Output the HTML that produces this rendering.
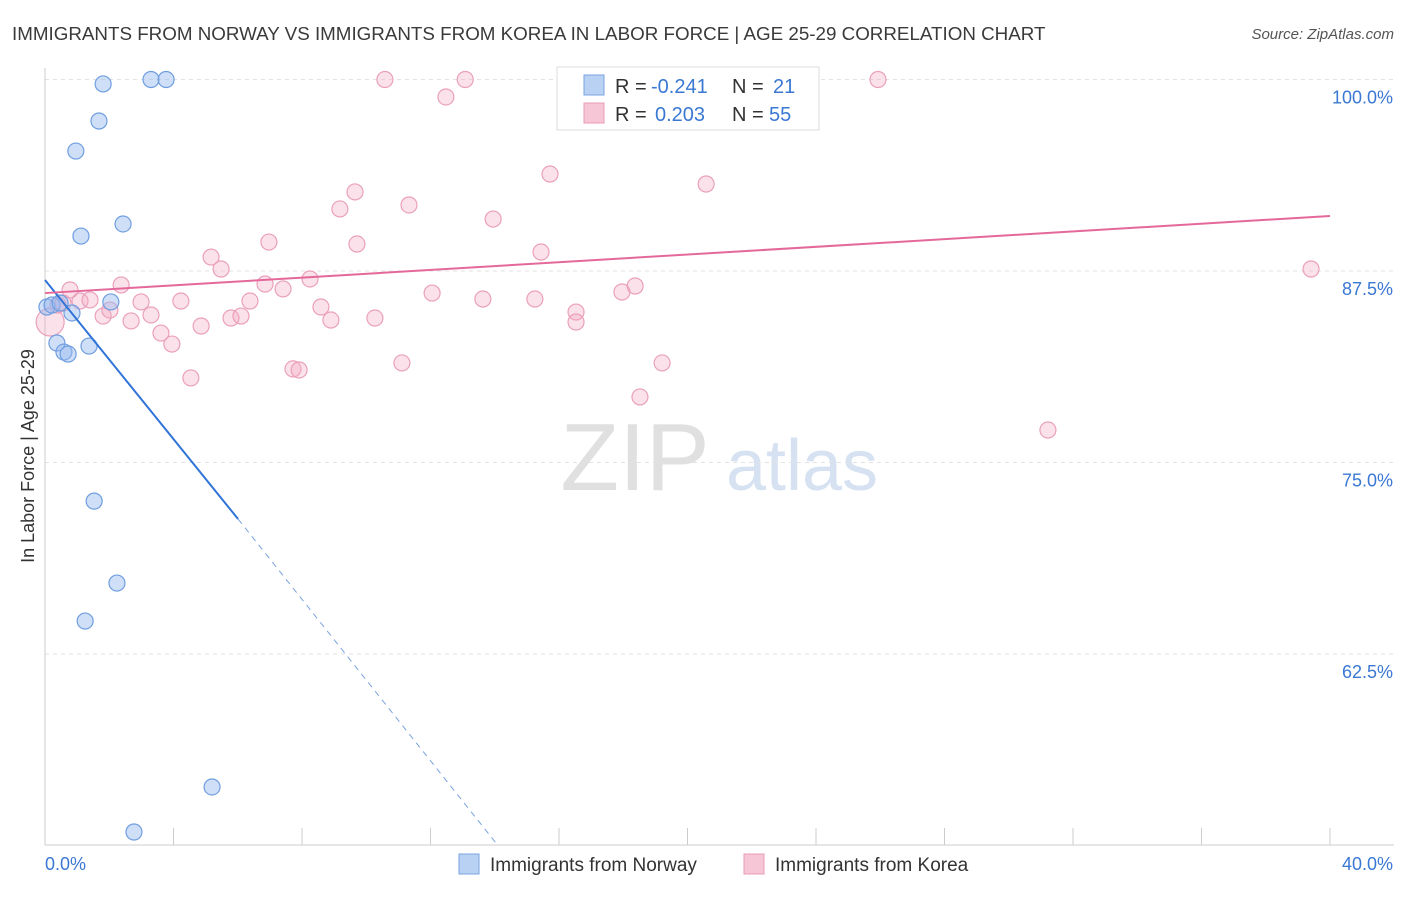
<!DOCTYPE html>
<html><head><meta charset="utf-8"><style>
body{margin:0;background:#fff;font-family:"Liberation Sans",sans-serif;}
svg text{font-family:"Liberation Sans",sans-serif;}
</style></head><body>
<svg id="chart" width="1406" height="892" xmlns="http://www.w3.org/2000/svg">
<text x="12" y="40" font-size="18.8" fill="#3a3a3a">IMMIGRANTS FROM NORWAY VS IMMIGRANTS FROM KOREA IN LABOR FORCE | AGE 25-29 CORRELATION CHART</text>
<text x="1394" y="39" font-size="15" fill="#555" text-anchor="end" font-style="italic">Source: ZipAtlas.com</text>
<text transform="translate(34,456) rotate(-90)" font-size="18" fill="#333" text-anchor="middle">In Labor Force | Age 25-29</text>
<g><text x="635" y="490" font-size="96" fill="#e0e0e0" text-anchor="middle" font-family="Liberation Serif">ZIP</text><text x="802" y="490" font-size="72" fill="#d6e2f2" text-anchor="middle">atlas</text></g>
<g id="grid"></g><g id="axes"></g><g id="marks"></g>
<g>
<rect x="557" y="67" width="262" height="63" fill="#fff" stroke="#ddd"/>
<rect x="584" y="75" width="20" height="20" fill="#b9d1f3" stroke="#7aa3e0"/>
<text x="615" y="93" font-size="20" fill="#333">R = </text><text x="651" y="93" font-size="20" fill="#3a78d4">-0.241</text>
<text x="732" y="93" font-size="20" fill="#333">N = </text><text x="773" y="93" font-size="20" fill="#3a78d4">21</text>
<rect x="584" y="103" width="20" height="20" fill="#f7c6d6" stroke="#e89ab5"/>
<text x="615" y="121" font-size="20" fill="#333">R = </text><text x="655" y="121" font-size="20" fill="#3a78d4">0.203</text>
<text x="732" y="121" font-size="20" fill="#333">N = </text><text x="769" y="121" font-size="20" fill="#3a78d4">55</text>
</g>
<g><rect x="459" y="854" width="20" height="20" fill="#b9d1f3" stroke="#7aa3e0"/><text x="490" y="871" font-size="19" fill="#333">Immigrants from Norway</text></g>
<g><rect x="744" y="854" width="20" height="20" fill="#f7c6d6" stroke="#e89ab5"/><text x="775" y="871" font-size="19" fill="#333">Immigrants from Korea</text></g>
</svg>
<script>
const blueX=[0.06,0.22,0.37,0.59,0.72,0.84,0.96,1.12,1.37,1.53,1.68,1.81,2.05,2.24,2.43,3.30,3.77,5.20,1.25,2.77,0.47];
const blueY=[85.15,85.28,82.80,82.21,82.08,84.76,95.33,89.78,82.60,72.48,97.29,99.71,85.48,67.13,90.57,100,100,53.82,64.65,50.88,85.41];
const pinkX=[0.16,0.40,0.56,0.78,1.09,1.40,1.81,2.02,2.37,2.68,2.99,3.30,3.61,3.95,4.23,4.54,4.86,5.17,5.48,5.79,6.10,6.38,6.85,6.97,7.41,7.72,7.91,8.25,8.59,8.90,9.18,9.65,9.71,10.27,10.58,11.11,11.33,12.05,12.48,13.08,13.63,13.95,15.25,15.44,15.72,16.53,16.53,17.96,18.37,18.52,19.21,20.58,25.93,31.22,39.41];
const pinkY=[84.17,85.28,85.41,86.26,85.54,85.61,84.56,84.95,86.59,84.24,85.48,84.63,83.45,82.73,85.54,80.52,83.91,88.41,87.63,84.43,84.56,85.54,86.65,89.39,86.33,81.11,81.04,86.98,85.15,84.30,91.55,92.66,89.26,84.43,100,81.50,91.81,86.06,98.86,100,85.67,90.89,85.67,88.74,93.83,84.82,84.17,86.13,86.52,79.28,81.50,93.18,100,77.12,87.63];
const yTicks=[100,87.5,75,62.5];
const yTickLabels=["100.0%","87.5%","75.0%","62.5%"];
const xTicks=[0,4,8,12,16,20,24,28,32,36,40];
const blueTrend=[[0,86.91],[6.01,71.31],[14.10,50]];
const pinkTrend=[[0,86.06],[40,91.09]];
const X=v=>45+v/40*1285, Y=v=>79.5+(100-v)/12.5*191.5;
const NS="http://www.w3.org/2000/svg";
function mk(t,a,p){const e=document.createElementNS(NS,t);for(const k in a)e.setAttribute(k,a[k]);p.appendChild(e);return e;}
const grid=document.getElementById('grid'),axes=document.getElementById('axes'),marks=document.getElementById('marks');
yTicks.forEach((v,i)=>{
 const l=mk('line',{x1:45,x2:1394,y1:Y(v),y2:Y(v),stroke:'#e2e2e2','stroke-dasharray':'4,4'},grid);
 
 
 const t=mk('text',{x:1393,y:Y(v)+24,'font-size':18,fill:'#3a78d4','text-anchor':'end'},axes);t.textContent=yTickLabels[i];
 
 
});
mk('line',{x1:45,x2:45,y1:68,y2:845,stroke:'#ccc'},axes);
mk('line',{x1:45,x2:1394,y1:845,y2:845,stroke:'#ccc'},axes);
xTicks.forEach(v=>{const l=mk('line',{x1:X(v),x2:X(v),y1:828,y2:845,stroke:'#ccc'},axes);
 
 });
let t=mk('text',{x:45,y:870,'font-size':18,fill:'#3a78d4'},axes);t.textContent=xTicks[0].toFixed(1)+'%';


t=mk('text',{x:1393,y:870,'font-size':18,fill:'#3a78d4','text-anchor':'end'},axes);t.textContent=xTicks[xTicks.length-1].toFixed(1)+'%';


pinkX.forEach((v,i)=>{const c=mk('circle',{cx:X(v),cy:Y(pinkY[i]),r:i===0?14:8,fill:'rgba(244,170,196,0.35)',stroke:'#eaa0bb','stroke-width':1.2},marks);
 
 });
blueX.forEach((v,i)=>{const c=mk('circle',{cx:X(v),cy:Y(blueY[i]),r:8,fill:'rgba(150,185,240,0.45)',stroke:'#6f9ee0','stroke-width':1.2},marks);
 
 });
let l=mk('line',{x1:X(blueTrend[0][0]),y1:Y(blueTrend[0][1]),x2:X(blueTrend[1][0]),y2:Y(blueTrend[1][1]),stroke:'#2f74d6','stroke-width':2},marks);


l=mk('line',{x1:X(blueTrend[1][0]),y1:Y(blueTrend[1][1]),x2:X(blueTrend[2][0]),y2:Y(blueTrend[2][1]),stroke:'#7aa3e0','stroke-width':1,'stroke-dasharray':'6,5'},marks);


l=mk('line',{x1:X(pinkTrend[0][0]),y1:Y(pinkTrend[0][1]),x2:X(pinkTrend[1][0]),y2:Y(pinkTrend[1][1]),stroke:'#e4699a','stroke-width':2},marks);


</script>
</body></html>
